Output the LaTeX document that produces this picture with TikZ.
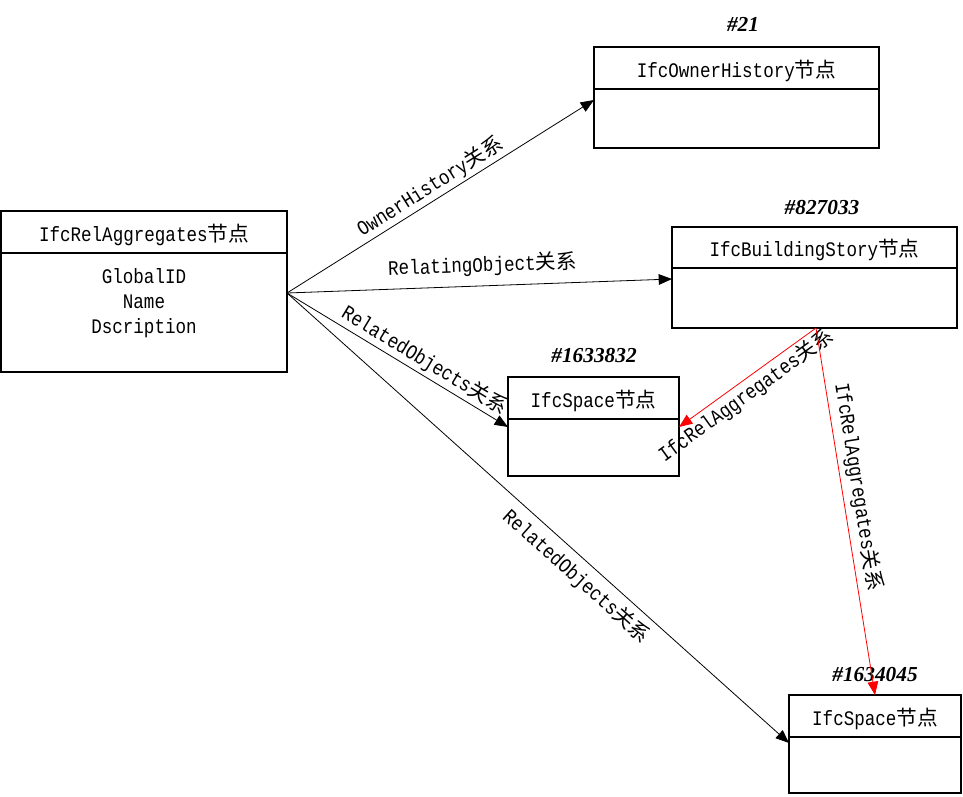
\documentclass[tikz,border=0pt]{standalone}
\usepackage{fontspec}
\setmainfont[FakeStretch=0.85]{Liberation Mono}
\newfontfamily\cjk{Noto Sans CJK SC}
\newfontfamily\idfont{Liberation Serif}
\usetikzlibrary{arrows.meta}

\begin{document}
\begin{tikzpicture}[x=0.75pt,y=-0.75pt,
  txt/.style={font=\fontsize{15.5}{18}\selectfont},
  hdr/.style={txt,draw,line width=1.4pt,anchor=north west,inner sep=0pt,outer sep=0pt,
    text height=14pt,text depth=0pt},
  bodybox/.style={draw,line width=1.4pt,anchor=north west,inner sep=0pt,outer sep=0pt},
  idlabel/.style={font=\idfont\bfseries\itshape\fontsize{16}{18}\selectfont,inner sep=0pt},
  conn/.style={line width=0.6pt,-{Triangle[length=10pt,width=8pt]}},
  redconn/.style={conn,red},
  lbl/.style={txt,sloped,inner sep=2pt},
]
\useasboundingbox (0,0) rectangle (963,796);

% IfcRelAggregates
\node[hdr,minimum width=214.5pt,minimum height=31.5pt] (Ah) at (1,211) {IfcRelAggregates{\cjk 节点}};
\node[bodybox,minimum width=214.5pt,minimum height=89.25pt] (Ab) at (Ah.south west) {};
\node[txt,align=center,inner sep=0pt] (Aattr) at (144,303) {GlobalID\\[1pt]Name\\[1pt]Dscription};

% IfcOwnerHistory #21
\node[hdr,minimum width=213.75pt,minimum height=31.5pt] (Bh) at (594,47) {IfcOwnerHistory{\cjk 节点}};
\node[bodybox,minimum width=213.75pt,minimum height=44.25pt] (Bb) at (Bh.south west) {};
\node[idlabel] (Bid) at (743,24) {\#21};

% IfcBuildingStory #827033
\node[hdr,minimum width=213.75pt,minimum height=30.75pt] (Ch) at (672,227) {IfcBuildingStory{\cjk 节点}};
\node[bodybox,minimum width=213.75pt,minimum height=45pt] (Cb) at (Ch.south west) {};
\node[idlabel] (Cid) at (822,208) {\#827033};

% IfcSpace #1633832
\node[hdr,minimum width=128.25pt,minimum height=31.5pt] (Dh) at (508,377) {IfcSpace{\cjk 节点}};
\node[bodybox,minimum width=128.25pt,minimum height=42.75pt] (Db) at (Dh.south west) {};
\node[idlabel] (Did) at (594,356) {\#1633832};

% IfcSpace #1634045
\node[hdr,minimum width=129pt,minimum height=31.5pt] (Eh) at (789,695) {IfcSpace{\cjk 节点}};
\node[bodybox,minimum width=129pt,minimum height=42pt] (Eb) at (Eh.south west) {};
\node[idlabel] (Eid) at (875,674) {\#1634045};

% connector end points
\coordinate (src) at (287,293);
\coordinate (Bt) at (594,100);
\coordinate (Ct) at (672,279);
\coordinate (Dt) at (508,427);
\coordinate (Et) at (789,743);
\coordinate (csrc) at (816,328);
\coordinate (Dr) at (679,427);
\coordinate (Etop) at (875,695);

% relations from IfcRelAggregates
\draw[conn] (src) -- node[lbl,above,pos=0.49] {OwnerHistory{\cjk 关系}} (Bt);
\draw[conn] (src) -- node[lbl,above=5pt,pos=0.51] {RelatingObject{\cjk 关系}} (Ct);
\draw[conn] (src) -- node[lbl,above,pos=0.59] {RelatedObjects{\cjk 关系}} (Dt);
\draw[conn] (src) -- node[lbl,below=3pt,pos=0.6] {RelatedObjects{\cjk 关系}} (Et);

% aggregation from the building storey
\draw[redconn] (csrc) -- node[lbl,below,pos=0.57,text=black] {IfcRelAggregates{\cjk 关系}} (Dr);
\draw[redconn] (csrc) -- node[lbl,above=2pt,pos=0.44,text=black] {IfcRelAggregates{\cjk 关系}} (Etop);
\end{tikzpicture}
\end{document}
